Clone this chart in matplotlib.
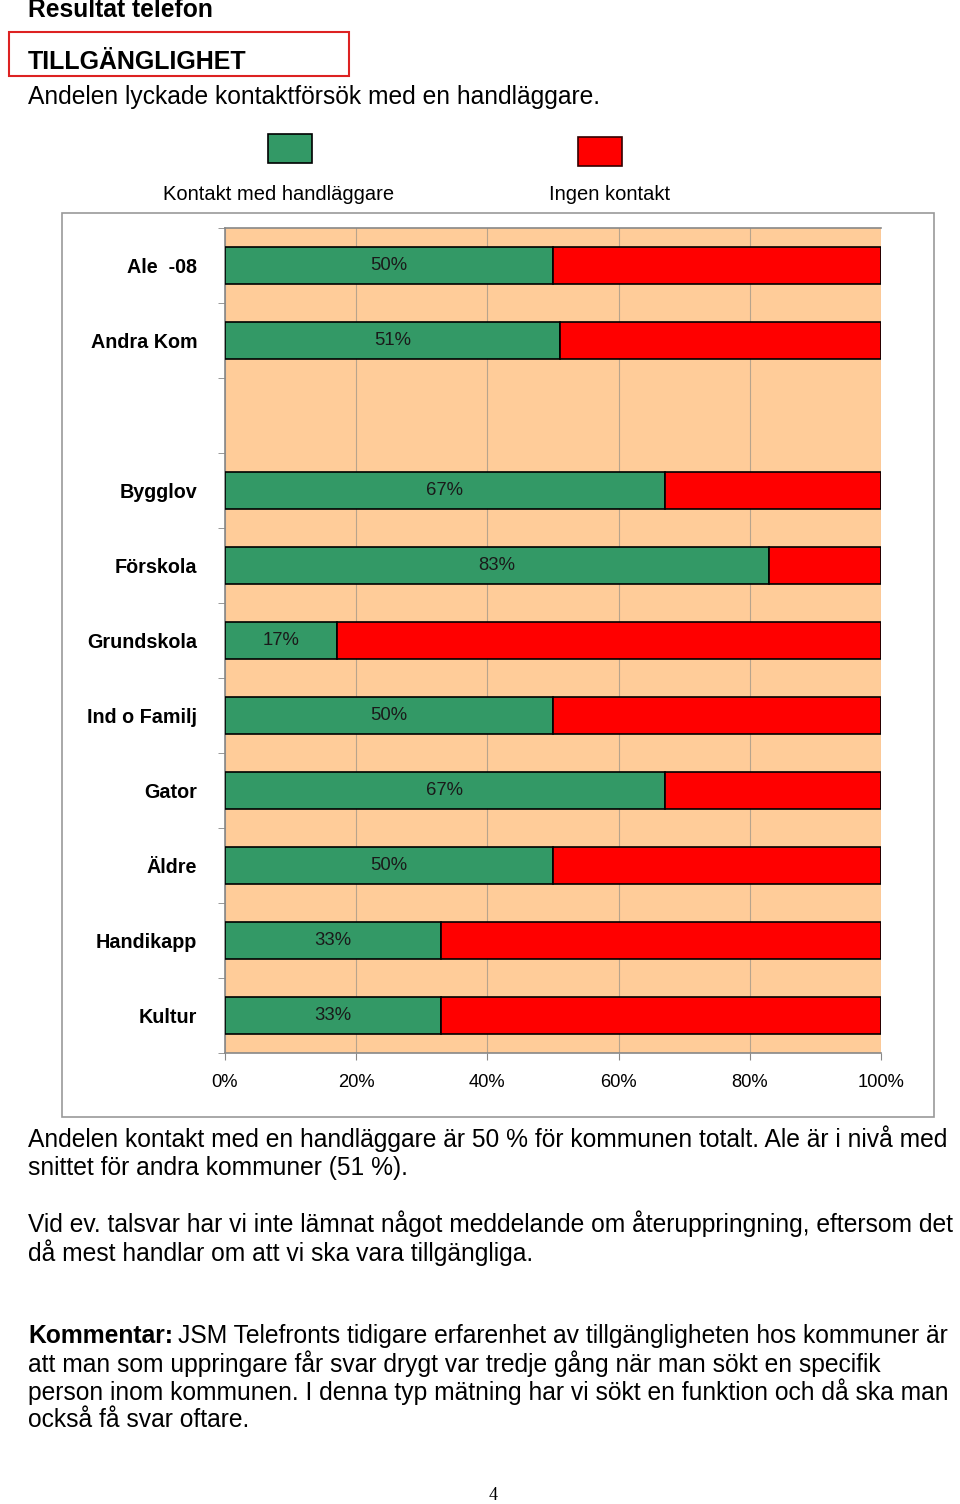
import matplotlib
matplotlib.use("Agg")
import matplotlib.pyplot as plt
from matplotlib.patches import Rectangle
import numpy as np

plt.rcParams['font.family'] = ['Liberation Sans', 'DejaVu Sans']

# data (one empty slot between Andra Kom and Bygglov)
categories = ["Ale  -08", "Andra Kom", "", "Bygglov", "Förskola", "Grundskola",
              "Ind o Familj", "Gator", "Äldre", "Handikapp", "Kultur"]
kontakt = [50, 51, np.nan, 67, 83, 17, 50, 67, 50, 33, 33]
ingen = [50, 49, np.nan, 33, 17, 83, 50, 33, 50, 67, 67]
xticks = [0, 20, 40, 60, 80, 100]
series_names = ["Kontakt med handläggare", "Ingen kontakt"]

GREEN = "#339966"
RED = "#FF0000"
PEACH = "#FFCC99"
BODY = 17.7

W, H = 960, 1504
fig = plt.figure(figsize=(W / 100, H / 100), dpi=100)

def fx(x):
    return x / W

def fy(y):
    return 1 - y / H

# outer chart frame
fig.patches.append(Rectangle((fx(62), fy(1117)), fx(934) - fx(62), fy(213) - fy(1117),
                             transform=fig.transFigure, fill=False, edgecolor="#999999", lw=1.2))

ax = fig.add_axes([fx(225), fy(1053), fx(881) - fx(225), fy(228) - fy(1053)])
ax.set_facecolor(PEACH)
y = np.arange(len(categories))
k = np.array(kontakt, dtype=float)
r = np.array(ingen, dtype=float)
ax.barh(y, k, height=0.5, color=GREEN, edgecolor="black", lw=1.2, zorder=3)
ax.barh(y, r, left=k, height=0.5, color=RED, edgecolor="black", lw=1.2, zorder=3)

for yi, v in zip(y, kontakt):
    if not np.isnan(v):
        ax.text(v / 2, yi, f"{v:.0f}%", ha="center", va="center", fontsize=13.3, color="#1a1a1a", zorder=4)

ax.set_xlim(0, 100)
ax.set_ylim(len(categories) - 0.5, -0.5)
ax.set_xticks(xticks)
ax.set_xticklabels([f"{t}%" for t in xticks], fontsize=13.2)
ax.set_yticks(y)
ax.set_yticklabels(categories, fontsize=14.2, fontweight="bold")
ax.set_yticks(np.arange(len(categories) + 1) - 0.5, minor=True)
ax.tick_params(axis="y", which="major", length=0, pad=20)
ax.tick_params(axis="y", which="minor", length=5, color="#888888")
ax.tick_params(axis="x", length=5, color="#888888", pad=10)
ax.grid(axis="x", color="#B8A48C", lw=0.8, zorder=1)
for s in ["left", "bottom", "top"]:
    ax.spines[s].set_color("#888888")
    ax.spines[s].set_linewidth(1.2)
ax.spines["right"].set_visible(False)

# legend boxes above the chart
fig.patches.append(Rectangle((fx(268), fy(163)), fx(312) - fx(268), fy(134) - fy(163),
                             transform=fig.transFigure, facecolor=GREEN, edgecolor="black", lw=1.2))
fig.patches.append(Rectangle((fx(578), fy(166)), fx(622) - fx(578), fy(137) - fy(166),
                             transform=fig.transFigure, facecolor=RED, edgecolor="#330000", lw=1.2))
fig.text(fx(279), fy(194), series_names[0], ha="center", va="center", fontsize=14.5)
fig.text(fx(610), fy(194), series_names[1], ha="center", va="center", fontsize=14.5)

# page header
fig.text(fx(28), fy(10), "Resultat telefon", fontsize=17.7, fontweight="bold", va="center")
fig.patches.append(Rectangle((fx(9), fy(76)), fx(349) - fx(9), fy(32) - fy(76),
                             transform=fig.transFigure, fill=False, edgecolor="#DD2222", lw=1.5))
fig.text(fx(28), fy(62), "TILLGÄNGLIGHET", fontsize=18, fontweight="bold", va="center")
fig.text(fx(28), fy(97), "Andelen lyckade kontaktförsök med en handläggare.", fontsize=BODY, va="center")

# text below
body = [
    (1139, "Andelen kontakt med en handläggare är 50 % för kommunen totalt. Ale är i nivå med"),
    (1168, "snittet för andra kommuner (51 %)."),
    (1224, "Vid ev. talsvar har vi inte lämnat något meddelande om återuppringning, eftersom det"),
    (1253, "då mest handlar om att vi ska vara tillgängliga."),
    (1364, "att man som uppringare får svar drygt var tredje gång när man sökt en specifik"),
    (1392, "person inom kommunen. I denna typ mätning har vi sökt en funktion och då ska man"),
    (1420, "också få svar oftare."),
]
for yy, line in body:
    fig.text(fx(28), fy(yy), line, fontsize=BODY, va="center")

kb = fig.text(fx(28), fy(1336), "Kommentar:", fontsize=BODY, fontweight="bold", va="center")
fig.canvas.draw()
ext = kb.get_window_extent()
fig.text((ext.x1 + 5) / W, fy(1336), "JSM Telefronts tidigare erfarenhet av tillgängligheten hos kommuner är",
         fontsize=BODY, va="center")

fig.text(fx(493), fy(1495), "4", fontsize=13, va="center", ha="center", family="Liberation Serif")

fig.savefig("out.png", dpi=100)
